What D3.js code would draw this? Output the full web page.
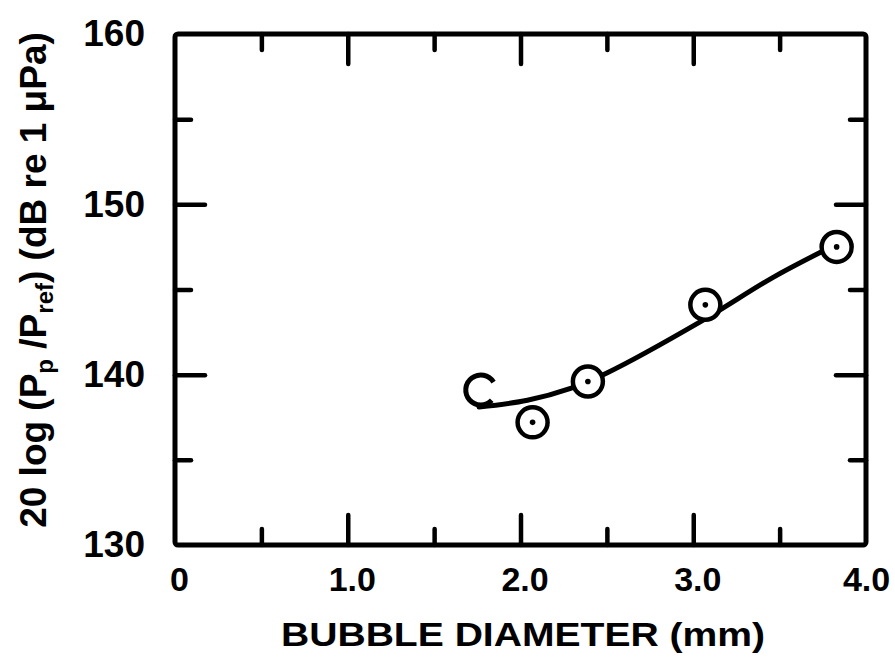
<!DOCTYPE html>
<html>
<head>
<meta charset="utf-8">
<script src="https://cdn.jsdelivr.net/npm/d3@7"></script>
<style>
  html, body { margin: 0; padding: 0; background: #fff; }
  svg { display: block; }
  text { font-family: "Liberation Sans", Arial, sans-serif; font-weight: bold; fill: #000; }
</style>
</head>
<body>
<svg id="chart" width="895" height="660"></svg>
<script>
// Measured bubble sound levels
const diameters = [1.77, 2.07, 2.39, 3.07, 3.83];
const levels = [139.1, 137.2, 139.6, 144.1, 147.5];

// Hand-faired trend curve through the measurements
const curveDiam = [1.76, 2.04, 2.29, 2.50, 3.04, 3.46, 3.74];
const curveLevel = [138.1, 138.5, 139.2, 140.1, 143.1, 145.7, 147.2];

// Axis ticks
const xMajor = [1, 2, 3];
const xMinor = [0.5, 1.5, 2.5, 3.5];
const xLabels = [0, 1, 2, 3, 4];
const yMajor = [140, 150];
const yMinor = [135, 145, 155];
const yLabels = [130, 140, 150, 160];

const svg = d3.select("#chart");
const x = d3.scaleLinear().domain([0, 4]).range([175, 866]);
const y = d3.scaleLinear().domain([130, 160]).range([545, 34]);

const INK = "#000";
const frameW = 5;

// Inward tick marks on all four sides
function ticks(axisFn, scale, values, len, transform) {
  const g = svg.append("g")
    .attr("transform", transform)
    .call(axisFn(scale).tickValues(values).tickSize(-len).tickFormat(""));
  g.select(".domain").remove();
  g.selectAll(".tick line").attr("stroke", INK).attr("stroke-width", 4.5).attr("stroke-linecap", "round");
}
const b = y.range()[0], t = y.range()[1], l = x.range()[0], r = x.range()[1];
ticks(d3.axisBottom, x, xMajor, 30, `translate(0,${b})`);
ticks(d3.axisBottom, x, xMinor, 16, `translate(0,${b})`);
ticks(d3.axisTop, x, xMajor, 30, `translate(0,${t})`);
ticks(d3.axisTop, x, xMinor, 16, `translate(0,${t})`);
ticks(d3.axisLeft, y, yMajor, 30, `translate(${l},0)`);
ticks(d3.axisLeft, y, yMinor, 16, `translate(${l},0)`);
ticks(d3.axisRight, y, yMajor, 30, `translate(${r},0)`);
ticks(d3.axisRight, y, yMinor, 16, `translate(${r},0)`);

// Frame
svg.append("rect")
  .attr("x", l).attr("y", t)
  .attr("width", r - l).attr("height", b - t)
  .attr("rx", 3)
  .attr("fill", "none").attr("stroke", INK).attr("stroke-width", frameW);

// Tick labels
const xAxisLabels = svg.append("g")
  .attr("transform", `translate(0,${b})`)
  .call(d3.axisBottom(x).tickValues(xLabels).tickSize(0).tickPadding(22)
    .tickFormat(d => d === 0 ? "0" : d3.format(".1f")(d)));
xAxisLabels.select(".domain").remove();
xAxisLabels.selectAll("text")
  .attr("font-size", 34).attr("font-family", "Liberation Sans, Arial, sans-serif")
  .attr("font-weight", "bold").attr("fill", INK)
  .attr("dx", d => d === 4 ? 0 : 4);

const yAxisLabels = svg.append("g")
  .attr("transform", `translate(${l},0)`)
  .call(d3.axisLeft(y).tickValues(yLabels).tickSize(0).tickPadding(30).tickFormat(d3.format("d")));
yAxisLabels.select(".domain").remove();
yAxisLabels.selectAll("text")
  .attr("font-size", 37).attr("font-family", "Liberation Sans, Arial, sans-serif")
  .attr("font-weight", "bold").attr("fill", INK);

// Axis titles
svg.append("text")
  .attr("x", 523).attr("y", 646)
  .attr("text-anchor", "middle")
  .attr("font-size", 34)
  .attr("textLength", 484).attr("lengthAdjust", "spacingAndGlyphs")
  .text("BUBBLE  DIAMETER (mm)");

const yTitle = svg.append("text")
  .attr("transform", "translate(46,280) rotate(-90)")
  .attr("text-anchor", "middle")
  .attr("font-size", 37);
yTitle.append("tspan").text("20 log (P");
yTitle.append("tspan").attr("font-size", 24).attr("dy", 7).text("p");
yTitle.append("tspan").attr("dy", -7).text(" /P");
yTitle.append("tspan").attr("font-size", 24).attr("dy", 7).text("ref");
yTitle.append("tspan").attr("dy", -7).text(")  (dB re 1 \u03BCPa)");

// Faired curve
const line = d3.line()
  .x(d => x(d[0])).y(d => y(d[1]))
  .curve(d3.curveCatmullRom.alpha(0.5));
svg.append("path")
  .datum(d3.zip(curveDiam, curveLevel))
  .attr("d", line)
  .attr("fill", "none").attr("stroke", INK)
  .attr("stroke-width", 5).attr("stroke-linecap", "round");

// Data markers: dotted circles; the smallest bubble is an open, broken ring
const pts = d3.zip(diameters, levels);
const R = 15;
const marks = svg.append("g");
pts.forEach((p, i) => {
  const cx = x(p[0]), cy = y(p[1]);
  if (i === 0) {
    const arc = d3.arc().innerRadius(R - 2.5).outerRadius(R + 2.5)
      .startAngle(Math.PI / 2 + 0.75).endAngle(Math.PI / 2 + 2 * Math.PI - 0.55);
    marks.append("path").attr("transform", `translate(${cx},${cy})`)
      .attr("d", arc()).attr("fill", INK);
  } else {
    marks.append("circle").attr("cx", cx).attr("cy", cy).attr("r", R)
      .attr("fill", "#fff").attr("stroke", INK).attr("stroke-width", 4.5);
    marks.append("circle").attr("cx", cx).attr("cy", cy).attr("r", 2.8).attr("fill", INK);
  }
});
</script>
</body>
</html>
